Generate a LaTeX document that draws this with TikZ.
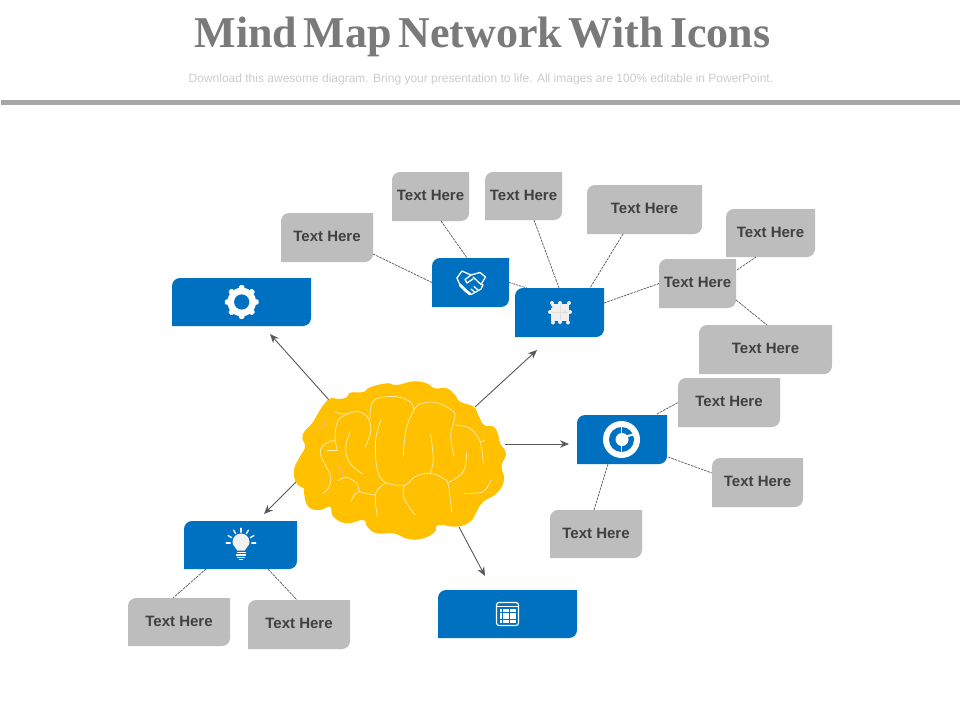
\documentclass[tikz,border=0pt]{standalone}
\usepackage{fontspec}
\setmainfont{Liberation Sans}
\newfontfamily\titlefont[WordSpace=0.6]{Liberation Serif}
\usetikzlibrary{calc,arrows.meta}
\definecolor{mapblue}{HTML}{0070C0}
\definecolor{mapgray}{HTML}{BDBDBD}
\definecolor{maptext}{HTML}{404040}
\definecolor{braincol}{HTML}{FFC000}
\definecolor{veincol}{HTML}{FFEDB8}
\tikzset{
  boxlabel/.style={inner sep=0pt,outer sep=0pt,text=maptext,font=\fontsize{15}{16}\selectfont\bfseries},
  conn/.style={draw=black!65,line width=0.7pt,dash pattern=on 2.6pt off 0.9pt},
  mainarrow/.style={draw=black!65,line width=0.9pt,-{Stealth[length=9pt,width=7.5pt]}},
  vein/.style={draw=veincol,line width=0.7pt,line cap=round},
  veinpink/.style={draw=pink!80!orange,line width=0.8pt,line cap=round},
  iconline/.style={draw=white,line cap=round,line join=round},
}
% name, x1, y1, x2, y2, fill, text
\newcommand{\mapbox}[7]{%
  \fill[#6] (#2,#5) -- (#2,{#3+8}) .. controls (#2,{#3+3.6}) and ({#2+3.6},#3) .. ({#2+8},#3) -- (#4,#3) -- (#4,{#5-8}) .. controls (#4,{#5-3.6}) and ({#4-3.6},#5) .. ({#4-8},#5) -- cycle;
  \node[boxlabel,minimum width={(#4-#2)*1pt},minimum height={(#5-#3)*1pt}] (#1) at ({(#2+#4)/2},{(#3+#5)/2}) {#7};
}
\newcommand{\txt}{\raisebox{2pt}{Text Here}}
\begin{document}
\begin{tikzpicture}[x=1pt,y=-1pt]
\useasboundingbox (0,0) rectangle (960,720);
\fill[white] (0,0) rectangle (960,720);
% header
\node[inner sep=0pt,text=black!52,font=\titlefont\fontsize{44}{48}\selectfont\bfseries] (title) at (482.5,37) {Mind Map Network With Icons};
\node[inner sep=0pt,text=black!20,font=\fontsize{12}{14}\selectfont] (subtitle) at (481,79) {Download this awesome diagram. Bring your presentation to life. All images are 100\% editable in PowerPoint.};
\fill[black!35] (1,100) rectangle (960,105);
% blue boxes
\mapbox{gearbox}{172}{278}{311}{326}{mapblue}{}
\mapbox{handbox}{432}{258}{509}{307}{mapblue}{}
\mapbox{puzzlebox}{515}{288}{604}{337}{mapblue}{}
\mapbox{targetbox}{577}{415}{667}{464}{mapblue}{}
\mapbox{bulbbox}{184}{521}{297}{569}{mapblue}{}
\mapbox{calbox}{438}{590}{577}{638}{mapblue}{}
% grey boxes
\mapbox{ta}{281}{213}{373}{262}{mapgray}{\txt}
\mapbox{tb}{392}{172}{469}{221}{mapgray}{\txt}
\mapbox{tc}{485}{172}{562}{220}{mapgray}{\txt}
\mapbox{td}{587}{185}{702}{234}{mapgray}{\txt}
\mapbox{te}{659}{259}{736}{308}{mapgray}{\txt}
\mapbox{tf}{726}{209}{815}{257}{mapgray}{\txt}
\mapbox{tg}{699}{325}{832}{374}{mapgray}{\txt}
\mapbox{th}{678}{378}{780}{427}{mapgray}{\txt}
\mapbox{ti}{712}{458}{803}{507}{mapgray}{\txt}
\mapbox{tj}{550}{510}{642}{558}{mapgray}{\txt}
\mapbox{tk}{128}{598}{230}{646}{mapgray}{\txt}
\mapbox{tl}{248}{600}{350}{649}{mapgray}{\txt}
% connectors
\draw[conn] ($(ta.south east)+(0,-8)$) -- (handbox.west);
\draw[conn] ($(tb.south)+(10.5,0)$) -- ($(handbox.north west)+(35,0)$);
\draw[conn] ($(tc.south west)+(49,0)$) -- ($(puzzlebox.north west)+(44,0)$);
\draw[conn] ($(td.south west)+(36,0)$) -- ($(puzzlebox.north west)+(75,0)$);
\draw[conn] (handbox.east) -- ($(puzzlebox.north west)+(12,0)$);
\draw[conn] ($(puzzlebox.east)+(0,-9.5)$) -- (te.west);
\draw[conn] ($(te.east)+(1,-13.5)$) -- ($(tf.south west)+(30,0)$);
\draw[conn] ($(te.south east)+(0,-8)$) -- ($(tg.north west)+(68,0)$);
\draw[conn] ($(targetbox.north east)+(-10,-1)$) -- (th.west);
\draw[conn] ($(targetbox.south east)+(1,-7)$) -- ($(ti.west)+(0,-9.5)$);
\draw[conn] ($(targetbox.south west)+(31,0)$) -- ($(tj.north west)+(44,0)$);
\draw[conn] ($(bulbbox.south west)+(22,0)$) -- ($(tk.north west)+(45,0)$);
\draw[conn] ($(bulbbox.south west)+(84,0)$) -- ($(tl.north west)+(49,0)$);
% arrows
\coordinate (bnw) at (329,400);
\coordinate (bne) at (475,407);
\coordinate (bea) at (505,444);
\coordinate (bso) at (459,527);
\coordinate (bsw) at (297,481);
\draw[mainarrow] (bnw) -- ($(gearbox.south)+(28.5,8)$);
\draw[mainarrow] (bne) -- ($(puzzlebox.south)+(-22.5,13)$);
\draw[mainarrow] (bea) -- ($(targetbox.west)+(-8,4.5)$);
\draw[mainarrow] (bso) -- ($(calbox.north)+(-22.5,-14)$);
\draw[mainarrow] (bsw) -- ($(bulbbox.north)+(23.5,-7)$);
% brain (traced in 3x coordinates)
\begin{scope}[shift={(280,360)},x=0.3333pt,y=-0.3333pt]
\fill[braincol] plot[smooth cycle,tension=0.8] coordinates {
(148,117)(175,117)(200,112)(212,98)(250,96)(270,82)(320,70)(350,75)(400,64)(440,70)(465,85)(500,85)(525,105)(540,125)(580,140)(595,165)(612,195)(640,200)(655,225)(660,250)(678,280)(665,318)(672,360)(650,400)(610,425)(590,455)(570,485)(530,500)(475,495)(465,515)(430,535)(385,537)(340,520)(290,520)(262,500)(250,480)(200,490)(160,470)(150,440)(120,450)(85,440)(72,400)(72,385)(50,370)(42,330)(60,290)(75,260)(68,225)(100,185)(120,150)};
\draw[vein] plot[smooth,tension=0.6] coordinates {(165,155)(190,162)(235,155)(265,175)(272,215)(255,262)};
\draw[vein] plot[smooth,tension=0.6] coordinates {(270,175)(275,130)(300,113)(350,110)(390,125)(402,150)};
\draw[vein] plot[smooth,tension=0.6] coordinates {(370,290)(378,210)(402,150)(425,130)(470,128)(515,150)(525,170)(512,225)(522,288)};
\draw[vein] plot[smooth,tension=0.6] coordinates {(303,180)(287,240)(292,330)(318,368)(375,375)(405,350)(450,340)(490,355)(505,375)(515,455)};
\draw[vein] plot[smooth,tension=0.6] coordinates {(375,375)(370,410)(405,465)};
\draw[vein] plot[smooth,tension=0.6] coordinates {(318,368)(287,400)(292,470)};
\draw[vein] plot[smooth,tension=0.6] coordinates {(452,222)(460,300)(450,340)};
\draw[vein] plot[smooth,tension=0.6] coordinates {(525,195)(570,205)(600,245)(610,310)};
\draw[vein] (600,247) -- (615,240);
\draw[vein] plot[smooth,tension=0.6] coordinates {(560,278)(550,335)(505,368)};
\draw[vein] plot[smooth,tension=0.6] coordinates {(632,360)(610,395)(552,400)};
\draw[vein] plot[smooth,tension=0.6] coordinates {(172,270)(165,230)(175,180)(205,162)};
\draw[vein] (143,270) -- (172,270);
\draw[vein] plot[smooth,tension=0.6] coordinates {(165,240)(130,255)(122,285)(150,345)(148,380)(130,400)};
\draw[vein] plot[smooth,tension=0.6] coordinates {(210,215)(197,265)(210,310)(248,342)};
\draw[vein] plot[smooth,tension=0.6] coordinates {(175,362)(200,352)(232,372)(240,395)(285,405)};
\draw[vein] plot[smooth,tension=0.6] coordinates {(240,395)(225,402)(213,425)};
\draw[veinpink] plot[smooth] coordinates {(170,315)(188,335)(188,352)};
\draw[veinpink] plot[smooth] coordinates {(135,180)(130,200)(115,205)};
\end{scope}
% gear icon
\begin{scope}[shift={(241.7,302)}]
\foreach \a in {0,45,...,315} \fill[white,rounded corners=1.2pt,rotate=\a] (-2.6,-11) rectangle (2.6,-16.8);
\fill[white] (0,0) circle (14.3);
\fill[mapblue] (0,0) circle (7.6);
\end{scope}
% handshake icon
\begin{scope}[line width=1.3pt]
\draw[iconline] (457,278) -- (462,271) -- (471,275) -- (480,272.5) -- (485.5,277) -- (481,284.5);
\draw[iconline] (457,278) -- (459,283) -- (464,288) -- (471,294.5) -- (474,293) -- (481,289) -- (483,285) -- (481,284.5) -- (473,277);
\draw[iconline] (471,275) -- (465,279.5) -- (467,283) -- (473,279);
\draw[iconline] (478,290) -- (474,286.5);
\draw[iconline] (475,292.5) -- (471,289);
\draw[iconline,line width=2.8pt] (460,285) -- (465,290) -- (470,294);
\end{scope}
% puzzle icon
\fill[black!6] (551,304) rectangle (569,321);
\foreach \p in {(560,303),(560,322),(550,312),(570,312),(553,322.5),(568,322.5),(552,303),(569,303)} \fill[black!6] \p circle (2);
\draw[black!12,line width=0.4pt] (560,305) -- (560,320) (552,312.5) -- (568,312.5);
\fill[maptext] (551.5,307) circle (0.8);
\fill[red!25] (565,311) circle (0.9);
% target icon
\begin{scope}[shift={(621.5,439.5)}]
\fill[white] (0,0) circle (18.5);
\fill[mapblue] (0,0) circle (12.5);
\fill[white] (0.5,0) circle (6.5);
\draw[white,line width=1.3pt] (0,6) -- (0,13) (0,-6) -- (0,-13);
\draw[white,line width=2pt] (4,-3) -- (12,-5);
\end{scope}
% bulb icon
\begin{scope}[shift={(241,543)}]
\foreach \a in {0,30,...,180} \draw[iconline,line width=1.3pt,rotate=\a] (10.8,0) -- (14.8,0);
\fill[black!6] (-3.8,7.5) .. controls (-5,4) and (-8.5,3) .. (-8.5,-1) arc[start angle=180,end angle=360,radius=8.5] .. controls (8.5,3) and (5,4) .. (3.8,7.5) -- cycle;
\fill[white] (-4.5,8.5) rectangle (4.5,10.2);
\fill[white] (-5,11) rectangle (5,12.7);
\fill[white] (-4,13.5) rectangle (4,15);
\fill[white] (-1.8,15.5) rectangle (1.8,17.2);
\end{scope}
% calendar icon
\draw[white,line width=1.2pt,rounded corners=2.5pt] (496.5,602.5) rectangle (518.5,625.5);
\draw[white,line width=1pt] (497,606.8) -- (518,606.8);
\foreach \i in {0,...,4}
  \foreach \j in {0,...,3}
    \fill[white] ({499.5+\i*3.4},{609.2+\j*3.5}) rectangle ({502.4+\i*3.4},{612+\j*3.5});
\end{tikzpicture}
\end{document}
